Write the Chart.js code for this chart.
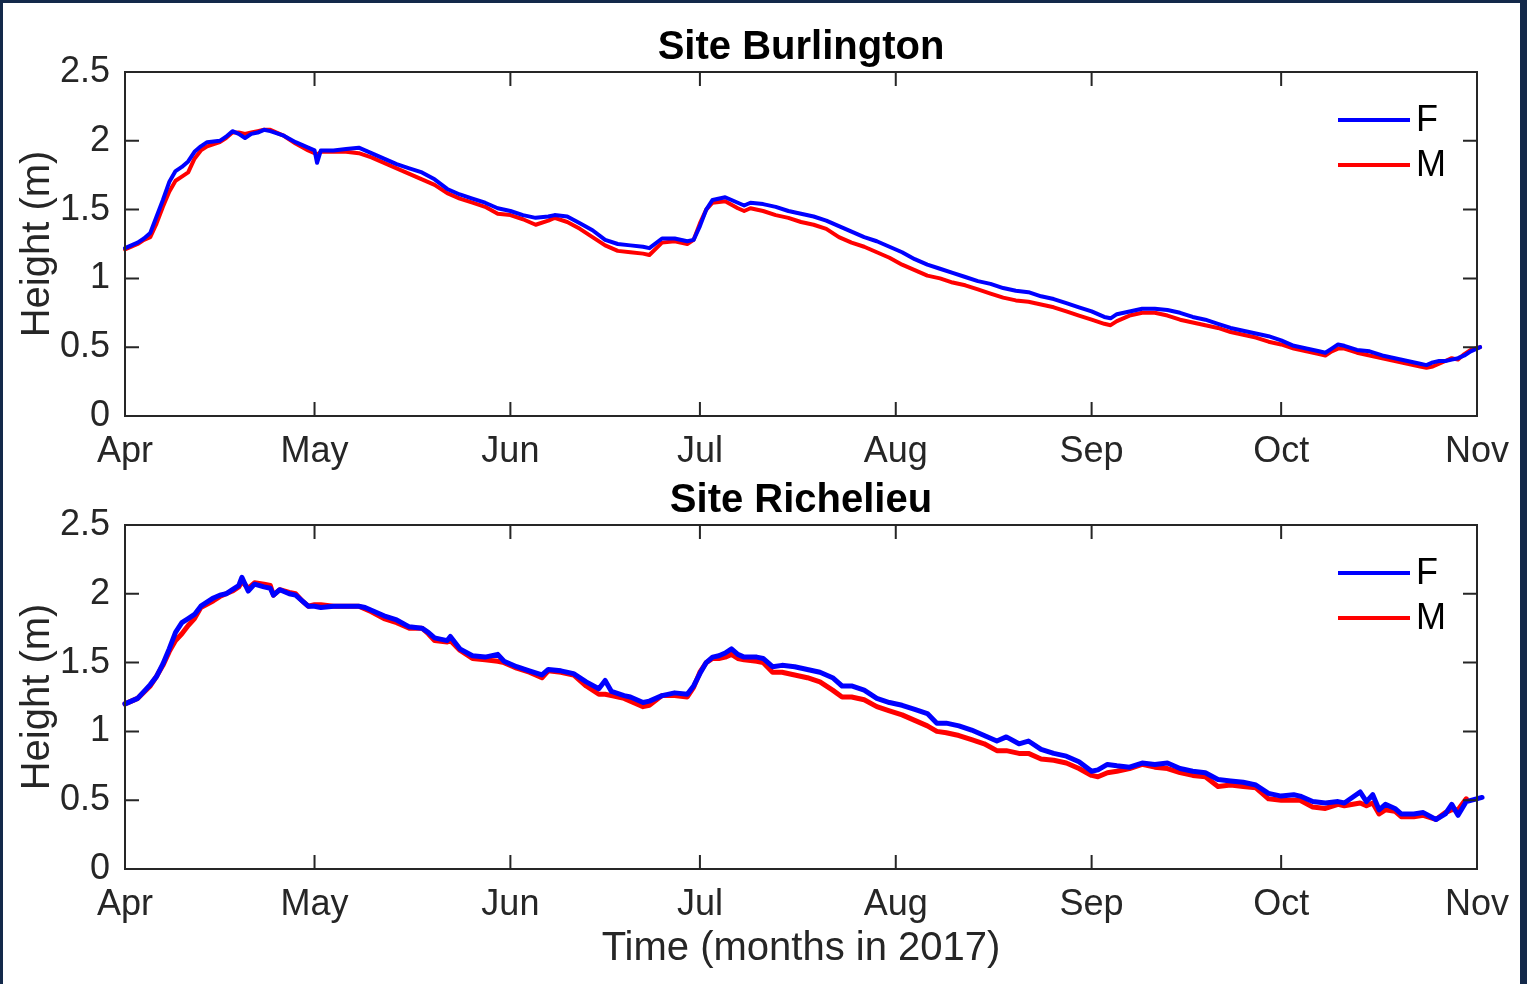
<!DOCTYPE html>
<html lang="en">
<head>
  <meta charset="UTF-8">
  <title>Water height - Site Burlington / Site Richelieu</title>
  <style>
    html, body { margin: 0; padding: 0; }
    body {
      width: 1527px;
      height: 984px;
      position: relative;
      overflow: hidden;
      background: #13294a; /* dark frame around the figure */
    }
    .panel {
      position: absolute;
      left: 3px;
      top: 3px;
      width: 1517px;
      height: 981px;
      background: #fff;
    }
    .plot { position: absolute; left: 0; width: 1527px; }
    #topWrap { top: 0; height: 480px; }
    #bottomWrap { top: 480px; height: 504px; }
  </style>
</head>
<body>
  <div class="panel"></div>
  <div class="plot" id="topWrap"><canvas id="burlington"></canvas></div>
  <div class="plot" id="bottomWrap"><canvas id="richelieu"></canvas></div>

  <script src="https://cdn.jsdelivr.net/npm/chart.js"></script>
  <script>
    // x = days since 1 Apr 2017
    const monthDays = [0, 30, 61, 91, 122, 153, 183, 214];
    const monthLabels = ['Apr', 'May', 'Jun', 'Jul', 'Aug', 'Sep', 'Oct', 'Nov'];
    const heightTicks = [0, 0.5, 1, 1.5, 2, 2.5];

    // Site Burlington
    const burlDays = [0, 2, 3, 4, 5, 6, 7, 8, 9, 10,
      11, 12, 13, 15, 16, 17, 18, 19, 20, 21,
      22, 23, 25, 27, 29, 30, 30.4, 31, 33, 35,
      37, 39, 41, 43, 45, 47, 49, 51, 53, 55,
      57, 59, 61, 63, 65, 67, 68, 70, 72, 74,
      76, 78, 80, 82, 83, 85, 87, 89, 90, 91,
      92, 93, 95, 97, 98, 99, 101, 103, 105, 107,
      109, 111, 113, 115, 117, 119, 121, 123, 125, 127,
      129, 131, 133, 135, 137, 139, 141, 143, 145, 147,
      149, 151, 153, 155, 156, 157, 159, 161, 163, 165,
      167, 169, 171, 173, 175, 177, 179, 181, 183, 185,
      187, 189, 190, 191, 192, 193, 195, 197, 199, 201,
      203, 205, 206, 207, 208, 209, 210, 211, 212, 213,
      214.5];
    const burlF = [1.22, 1.26, 1.29, 1.33, 1.45, 1.57, 1.70, 1.78, 1.81, 1.85,
      1.92, 1.96, 1.99, 2.00, 2.03, 2.07, 2.05, 2.02, 2.05, 2.06,
      2.08, 2.07, 2.04, 1.99, 1.95, 1.93, 1.84, 1.93, 1.93, 1.94,
      1.95, 1.91, 1.87, 1.83, 1.80, 1.77, 1.72, 1.65, 1.61, 1.58,
      1.55, 1.51, 1.49, 1.46, 1.44, 1.45, 1.46, 1.45, 1.40, 1.35,
      1.28, 1.25, 1.24, 1.23, 1.22, 1.29, 1.29, 1.27, 1.28, 1.38,
      1.50, 1.57, 1.59, 1.55, 1.53, 1.55, 1.54, 1.52, 1.49, 1.47,
      1.45, 1.42, 1.38, 1.34, 1.30, 1.27, 1.23, 1.19, 1.14, 1.10,
      1.07, 1.04, 1.01, 0.98, 0.96, 0.93, 0.91, 0.90, 0.87, 0.85,
      0.82, 0.79, 0.76, 0.72, 0.71, 0.74, 0.76, 0.78, 0.78, 0.77,
      0.75, 0.72, 0.70, 0.67, 0.64, 0.62, 0.60, 0.58, 0.55, 0.51,
      0.49, 0.47, 0.46, 0.49, 0.52, 0.51, 0.48, 0.47, 0.44, 0.42,
      0.40, 0.38, 0.37, 0.39, 0.40, 0.40, 0.41, 0.42, 0.44, 0.47,
      0.50];
    const burlM = [1.21, 1.25, 1.28, 1.30, 1.40, 1.52, 1.63, 1.71, 1.74, 1.77,
      1.87, 1.93, 1.96, 1.99, 2.02, 2.06, 2.06, 2.05, 2.06, 2.07,
      2.08, 2.08, 2.04, 1.98, 1.93, 1.91, 1.90, 1.92, 1.92, 1.92,
      1.91, 1.88, 1.84, 1.80, 1.76, 1.72, 1.68, 1.62, 1.58, 1.55,
      1.52, 1.47, 1.46, 1.43, 1.39, 1.42, 1.44, 1.41, 1.36, 1.30,
      1.24, 1.20, 1.19, 1.18, 1.17, 1.26, 1.27, 1.25, 1.28, 1.40,
      1.50, 1.55, 1.56, 1.51, 1.49, 1.51, 1.49, 1.46, 1.44, 1.41,
      1.39, 1.36, 1.30, 1.26, 1.23, 1.19, 1.15, 1.10, 1.06, 1.02,
      1.00, 0.97, 0.95, 0.92, 0.89, 0.86, 0.84, 0.83, 0.81, 0.79,
      0.76, 0.73, 0.70, 0.67, 0.66, 0.69, 0.73, 0.75, 0.75, 0.73,
      0.70, 0.68, 0.66, 0.64, 0.61, 0.59, 0.57, 0.54, 0.52, 0.49,
      0.47, 0.45, 0.44, 0.47, 0.49, 0.49, 0.46, 0.44, 0.42, 0.40,
      0.38, 0.36, 0.35, 0.36, 0.38, 0.40, 0.42, 0.41, 0.45, 0.48,
      0.50];

    // Site Richelieu
    const richDays = [0, 2, 4, 5, 6, 7, 8, 9, 10, 11,
      12, 14, 15, 16, 17, 18, 18.5, 19.5, 20.5, 22,
      23, 23.5, 24.5, 26, 27, 28, 29, 30, 31, 33,
      35, 37, 38, 39, 41, 43, 45, 47, 48, 49,
      51, 51.5, 53, 55, 57, 59, 60, 62, 64, 66,
      67, 69, 71, 73, 75, 76, 77, 79, 80, 82,
      83, 85, 87, 89, 90, 91, 92, 93, 94, 95,
      96, 97, 98, 100, 101, 102.5, 104, 106, 108, 110,
      112, 113.5, 115, 117, 119, 121, 123, 125, 127, 128.5,
      130, 132, 134, 136, 138, 139.5, 141.5, 143, 145, 147,
      149, 151, 153, 154, 155.5, 157, 159, 161, 163, 165,
      167, 169, 171, 173, 175, 177, 179, 181, 183, 185,
      186, 188, 190, 192, 193, 195.5, 196.5, 197.5, 198.5, 199.5,
      201, 202, 204, 205.5, 207.5, 209, 210, 211, 212.3, 214.8];
    const richF = [1.20, 1.24, 1.34, 1.40, 1.49, 1.60, 1.72, 1.79, 1.82, 1.85,
      1.91, 1.97, 1.99, 2.00, 2.03, 2.06, 2.12, 2.02, 2.07, 2.05,
      2.04, 1.99, 2.03, 2.00, 1.99, 1.95, 1.91, 1.91, 1.90, 1.91,
      1.91, 1.91, 1.90, 1.88, 1.84, 1.81, 1.76, 1.75, 1.72, 1.68,
      1.66, 1.69, 1.60, 1.55, 1.54, 1.56, 1.51, 1.47, 1.44, 1.41,
      1.45, 1.44, 1.42, 1.36, 1.31, 1.37, 1.29, 1.26, 1.25, 1.21,
      1.22, 1.26, 1.28, 1.27, 1.33, 1.42, 1.50, 1.54, 1.55, 1.57,
      1.60, 1.56, 1.54, 1.54, 1.53, 1.47, 1.48, 1.47, 1.45, 1.43,
      1.39, 1.33, 1.33, 1.30, 1.24, 1.21, 1.19, 1.16, 1.13, 1.06,
      1.06, 1.04, 1.01, 0.97, 0.93, 0.96, 0.91, 0.93, 0.87, 0.84,
      0.82, 0.78, 0.71, 0.72, 0.76, 0.75, 0.74, 0.77, 0.76, 0.77,
      0.73, 0.71, 0.70, 0.65, 0.64, 0.63, 0.61, 0.55, 0.53, 0.54,
      0.53, 0.49, 0.48, 0.49, 0.48, 0.56, 0.49, 0.54, 0.43, 0.47,
      0.44, 0.40, 0.40, 0.41, 0.36, 0.40, 0.47, 0.39, 0.49, 0.52];
    const richM = [1.20, 1.24, 1.33, 1.40, 1.48, 1.58, 1.66, 1.71, 1.77, 1.82,
      1.90, 1.95, 1.98, 2.00, 2.02, 2.05, 2.09, 2.04, 2.08, 2.07,
      2.06, 1.99, 2.03, 2.01, 2.00, 1.95, 1.91, 1.92, 1.92, 1.91,
      1.91, 1.91, 1.89, 1.87, 1.82, 1.79, 1.75, 1.75, 1.71, 1.66,
      1.65, 1.66, 1.59, 1.53, 1.52, 1.51, 1.50, 1.46, 1.43, 1.39,
      1.44, 1.43, 1.41, 1.33, 1.27, 1.27, 1.26, 1.24, 1.22, 1.18,
      1.19, 1.26, 1.26, 1.25, 1.32, 1.43, 1.50, 1.53, 1.53, 1.54,
      1.56, 1.53, 1.52, 1.51, 1.50, 1.43, 1.43, 1.41, 1.39, 1.36,
      1.30, 1.25, 1.25, 1.23, 1.18, 1.15, 1.12, 1.08, 1.04, 1.00,
      0.99, 0.97, 0.94, 0.91, 0.86, 0.86, 0.84, 0.84, 0.80, 0.79,
      0.77, 0.73, 0.68, 0.67, 0.70, 0.71, 0.73, 0.76, 0.74, 0.73,
      0.70, 0.68, 0.67, 0.60, 0.61, 0.60, 0.59, 0.51, 0.50, 0.50,
      0.50, 0.45, 0.44, 0.47, 0.46, 0.48, 0.46, 0.48, 0.40, 0.43,
      0.42, 0.38, 0.38, 0.39, 0.36, 0.41, 0.43, 0.43, 0.51, null];

    Chart.defaults.font.family = '"Liberation Sans", Arial, Helvetica, sans-serif';
    Chart.defaults.color = '#262626';

    // MATLAB-like box: inward ticks on all four sides, bold title, legend inside
    const matlabFrame = {
      id: 'matlabFrame',
      afterDraw(chart, args, opts) {
        const { ctx, chartArea: a, scales: { x, y } } = chart;
        const t = 14;
        ctx.save();
        ctx.strokeStyle = '#262626';
        ctx.lineWidth = 2;
        ctx.strokeRect(a.left, a.top, a.right - a.left, a.bottom - a.top);
        ctx.beginPath();
        x.ticks.forEach(tk => {
          const px = x.getPixelForValue(tk.value);
          ctx.moveTo(px, a.bottom); ctx.lineTo(px, a.bottom - t);
          ctx.moveTo(px, a.top); ctx.lineTo(px, a.top + t);
        });
        y.ticks.forEach(tk => {
          const py = y.getPixelForValue(tk.value);
          ctx.moveTo(a.left, py); ctx.lineTo(a.left + t, py);
          ctx.moveTo(a.right, py); ctx.lineTo(a.right - t, py);
        });
        ctx.stroke();

        ctx.fillStyle = '#000';
        ctx.font = 'bold 40px "Liberation Sans", Arial, sans-serif';
        ctx.textAlign = 'center';
        ctx.textBaseline = 'alphabetic';
        ctx.fillText(opts.title, (a.left + a.right) / 2, opts.titleBaseline);

        ctx.font = '36px "Liberation Sans", Arial, sans-serif';
        ctx.textAlign = 'left';
        ctx.textBaseline = 'middle';
        chart.data.datasets.forEach((ds, i) => {
          const ly = a.top + 48 + i * 45;
          ctx.strokeStyle = ds.borderColor;
          ctx.lineWidth = 4;
          ctx.beginPath();
          ctx.moveTo(a.right - 139, ly);
          ctx.lineTo(a.right - 67, ly);
          ctx.stroke();
          ctx.fillStyle = '#000';
          ctx.fillText(ds.label, a.right - 61, ly + 1);
        });
        ctx.restore();
      }
    };

    function toPoints(days, vals) {
      const pts = [];
      days.forEach((d, i) => {
        if (vals[i] !== null) pts.push({ x: d, y: vals[i] });
      });
      return pts;
    }

    function makeChart(id, cfg) {
      return new Chart(document.getElementById(id), {
        type: 'line',
        data: {
          datasets: [
            { label: 'F', data: toPoints(cfg.days, cfg.f), borderColor: '#0000ff', borderWidth: cfg.lineWidth },
            { label: 'M', data: toPoints(cfg.days, cfg.m), borderColor: '#ff0000', borderWidth: cfg.lineWidth }
          ]
        },
        options: {
          responsive: true,
          maintainAspectRatio: false,
          animation: false,
          parsing: false,
          layout: { padding: cfg.padding },
          elements: {
            point: { radius: 0 },
            line: { tension: 0, borderJoinStyle: 'round', borderCapStyle: 'round' }
          },
          datasets: { line: { clip: 10 } },
          plugins: {
            legend: { display: false },
            tooltip: { enabled: false },
            matlabFrame: { title: cfg.title, titleBaseline: cfg.titleBaseline }
          },
          scales: {
            x: {
              type: 'linear',
              min: 0,
              max: 214,
              grid: { display: false, drawTicks: false, tickLength: 0 },
              border: { display: false },
              afterBuildTicks: s => { s.ticks = monthDays.map(v => ({ value: v })); },
              afterFit: s => { s.height = cfg.xHeight; },
              ticks: {
                autoSkip: false,
                maxRotation: 0,
                padding: 14,
                font: { size: 36 },
                callback: (v, i) => monthLabels[i]
              },
              title: {
                display: cfg.showXTitle,
                text: 'Time (months in 2017)',
                font: { size: 40 },
                padding: { top: 0, bottom: 6 }
              }
            },
            y: {
              min: 0,
              max: 2.5,
              grid: { display: false, drawTicks: false, tickLength: 0 },
              border: { display: false },
              afterBuildTicks: s => { s.ticks = heightTicks.map(v => ({ value: v })); },
              afterFit: s => { s.width = 125; },
              ticks: {
                padding: 15,
                font: { size: 36 },
                callback: v => String(Math.round(v * 10) / 10)
              },
              title: {
                display: true,
                text: 'Height (m)',
                font: { size: 40 },
                padding: { top: 14, bottom: 0 }
              }
            }
          }
        },
        plugins: [matlabFrame]
      });
    }

    makeChart('burlington', {
      title: 'Site Burlington',
      titleBaseline: 59,
      days: burlDays, f: burlF, m: burlM,
      lineWidth: 4,
      padding: { left: 0, right: 50, top: 72, bottom: 0 },
      xHeight: 64,
      showXTitle: false
    });

    makeChart('richelieu', {
      title: 'Site Richelieu',
      titleBaseline: 32,
      days: richDays, f: richF, m: richM,
      lineWidth: 5,
      padding: { left: 0, right: 50, top: 45, bottom: 5 },
      xHeight: 110,
      showXTitle: true
    });
  </script>
</body>
</html>
